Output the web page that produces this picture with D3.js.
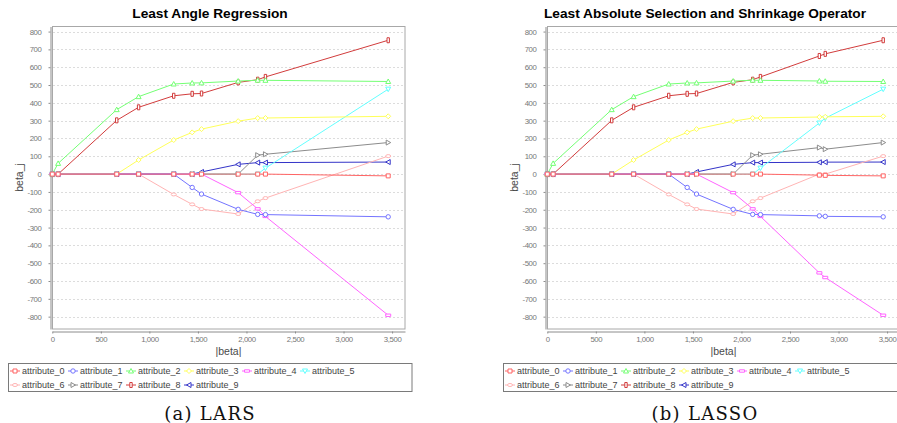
<!DOCTYPE html>
<html>
<head>
<meta charset="utf-8">
<script src="https://cdn.jsdelivr.net/npm/d3@7"></script>
<style>
body { margin: 0; background: #fff; }
text { font-family: "Liberation Sans", Arial, sans-serif; }
</style>
</head>
<body>
<svg id="viz" width="897" height="423"></svg>
<script>
var attributes = ["attribute_0", "attribute_1", "attribute_2", "attribute_3", "attribute_4",
                  "attribute_5", "attribute_6", "attribute_7", "attribute_8", "attribute_9"]

var xTicks = [0, 500, 1000, 1500, 2000, 2500, 3000, 3500]
var yTicks = [-800, -700, -600, -500, -400, -300, -200, -100, 0, 100, 200, 300, 400, 500, 600, 700, 800]

// |beta| at every breakpoint of the path
var larsNorm = [0, 60.12, 663.67, 888.92, 1250.69, 1440.80, 1537.07, 1914.58, 2115.75, 2195.56, 3460.02]
// one row per breakpoint, one column per attribute
var larsBeta = [
    [0, 0, 0, 0, 0, 0, 0, 0, 0, 0],
    [0, 0, 60.12, 0, 0, 0, 0, 0, 0, 0],
    [0, 0, 361.89, 0, 0, 0, 0, 0, 301.78, 0],
    [0, 0, 434.76, 79.24, 0, 0, 0, 0, 374.92, 0],
    [0, 0, 505.66, 191.27, 0, 0, -114.10, 0, 439.66, 0],
    [0, -74.92, 511.35, 234.15, 0, 0, -169.71, 0, 450.67, 0],
    [0, -111.98, 512.04, 252.53, 0, 0, -196.05, 0, 452.39, 12.08],
    [0, -197.76, 522.26, 297.16, -103.95, 0, -223.93, 0, 514.75, 54.77],
    [0, -226.13, 526.89, 314.39, -195.11, 0, -152.48, 106.34, 529.92, 64.49],
    [0, -227.18, 526.39, 314.95, -237.34, 33.63, -134.60, 111.38, 545.48, 64.61],
    [-10.01, -239.82, 519.84, 324.39, -792.18, 476.75, 101.04, 177.06, 751.28, 67.63]
]

var lassoNorm = [0, 60.12, 663.67, 888.92, 1250.69, 1440.80, 1537.07, 1914.58, 2115.75, 2195.56, 2802.38, 2863.02, 3460.02]
var lassoBeta = [
    [0, 0, 0, 0, 0, 0, 0, 0, 0, 0],
    [0, 0, 60.12, 0, 0, 0, 0, 0, 0, 0],
    [0, 0, 361.89, 0, 0, 0, 0, 0, 301.78, 0],
    [0, 0, 434.76, 79.24, 0, 0, 0, 0, 374.92, 0],
    [0, 0, 505.66, 191.27, 0, 0, -114.10, 0, 439.66, 0],
    [0, -74.92, 511.35, 234.15, 0, 0, -169.71, 0, 450.67, 0],
    [0, -111.98, 512.04, 252.53, 0, 0, -196.05, 0, 452.39, 12.08],
    [0, -197.76, 522.26, 297.16, -103.95, 0, -223.93, 0, 514.75, 54.77],
    [0, -226.13, 526.89, 314.39, -195.11, 0, -152.48, 106.34, 529.92, 64.49],
    [0, -227.18, 526.39, 314.95, -237.34, 33.63, -134.60, 111.38, 545.48, 64.61],
    [-5.72, -234.40, 522.65, 320.34, -554.27, 286.74, 0, 148.90, 663.03, 66.33],
    [-7.01, -237.10, 521.08, 321.55, -580.44, 313.86, 0, 139.86, 674.94, 67.18],
    [-10.01, -239.82, 519.84, 324.39, -792.18, 476.75, 101.04, 177.06, 751.28, 67.63]
]

var colors = ["#ff6464", "#7474ff", "#74ff74", "#ffff5a", "#ff64ff",
              "#64ffff", "#ffb4b4", "#8c8c8c", "#d23c3c", "#3434c8"]

// jfreechart style shape sequence
var shapes = [
    "M-2,-2h4v4h-4z",
    "M-2.2,0a2.2,2.2 0 1,0 4.4,0a2.2,2.2 0 1,0 -4.4,0",
    "M0,-2.5L2.5,2L-2.5,2z",
    "M0,-2.5L2.5,0L0,2.5L-2.5,0z",
    "M-2.5,-1.2h5v2.4h-5z",
    "M0,2.5L2.5,-2L-2.5,-2z",
    "M-2.5,0a2.5,1.5 0 1,0 5,0a2.5,1.5 0 1,0 -5,0",
    "M2.5,0L-2,-2.5L-2,2.5z",
    "M-1.2,-2.5h2.4v5h-2.4z",
    "M-2.5,0L2,-2.5L2,2.5z"
]

var fmt = d3.formatLocale({decimal: ".", thousands: ",", grouping: [3], currency: ["", ""], minus: "-"}).format(",")

function drawChart(ox, title, caption, norm, beta){
    var svg = d3.select("#viz").append("g")
        .attr("transform", "translate(" + ox + ",0)")

    var all = d3.merge(beta)
    var lo = d3.min(all), hi = d3.max(all), pad = (hi - lo) * 0.05

    var x = d3.scaleLinear().domain([0, d3.max(norm) * 1.05]).range([52.3, 405])
    var y = d3.scaleLinear().domain([lo - pad, hi + pad]).range([329, 26.5])

    svg.append("text")
        .attr("x", 210).attr("y", 18)
        .attr("text-anchor", "middle")
        .style("font-weight", "bold")
        .style("font-size", "13.7px")
        .text(title)

    // gridlines
    svg.append("g").selectAll("line")
        .data(yTicks)
        .enter()
        .append("line")
        .attr("x1", 53).attr("x2", 404.5)
        .attr("y1", function(d){ return Math.round(y(d)) + 0.5 })
        .attr("y2", function(d){ return Math.round(y(d)) + 0.5 })
        .style("stroke", "#dcdcdc")
        .style("stroke-dasharray", "2,2")

    // plot frame
    svg.append("rect")
        .attr("x", 52.5).attr("y", 26.5)
        .attr("width", 352.5).attr("height", 302.5)
        .style("fill", "none")
        .style("stroke", "#a8a8a8")

    var yAxis = d3.axisLeft(y).tickValues(yTicks).tickFormat(fmt).tickSize(2).tickSizeOuter(0).tickPadding(7)
    var xAxis = d3.axisBottom(x).tickValues(xTicks).tickFormat(fmt).tickSize(2).tickSizeOuter(0).tickPadding(3)

    var gy = svg.append("g").attr("transform", "translate(50.5,0)").call(yAxis)
    var gx = svg.append("g").attr("transform", "translate(0,331.5)").call(xAxis)

    ;[gx, gy].forEach(function(g){
        g.select(".domain").style("stroke", "#8c8c8c")
        g.selectAll(".tick line").style("stroke", "#8c8c8c")
        g.selectAll("text")
            .style("font-family", "Liberation Sans, Arial, sans-serif")
            .style("font-size", "7.8px")
            .style("letter-spacing", "-0.4px")
            .style("fill", "#777")
    })

    svg.append("text")
        .attr("transform", "translate(23,177.5) rotate(-90)")
        .attr("text-anchor", "middle")
        .style("font-size", "10.5px")
        .style("fill", "#4a4a4a")
        .text("beta_j")

    svg.append("text")
        .attr("x", 228.5).attr("y", 355)
        .attr("text-anchor", "middle")
        .style("font-size", "10.5px")
        .style("fill", "#4a4a4a")
        .text("|beta|")

    var line = d3.line()
        .x(function(d){ return x(d[0]) })
        .y(function(d){ return y(d[1]) })

    // series 0 ends up on top, like the original renderer
    for (var k = attributes.length - 1; k >= 0; k--){
        var pts = norm.map(function(n, i){ return [n, beta[i][k]] })
        var g = svg.append("g")
        g.append("path")
            .datum(pts)
            .attr("d", line)
            .style("fill", "none")
            .style("stroke", colors[k])
            .style("stroke-width", 1)
        g.selectAll(".pt")
            .data(pts)
            .enter()
            .append("path")
            .attr("class", "pt")
            .attr("d", shapes[k])
            .attr("transform", function(d){ return "translate(" + x(d[0]) + "," + y(d[1]) + ")" })
            .style("fill", "#fff")
            .style("stroke", colors[k])
            .style("stroke-width", 1)
    }

    // legend
    var lg = svg.append("g")
    lg.append("rect")
        .attr("x", 8.5).attr("y", 363.5)
        .attr("width", 403.5).attr("height", 28)
        .style("fill", "none")
        .style("stroke", "#7a7a7a")

    var item = lg.selectAll(".item")
        .data(attributes)
        .enter()
        .append("g")
        .attr("class", "item")
        .attr("transform", function(d, i){
            var row = i < 6 ? 0 : 1
            var col = i < 6 ? i : i - 6
            return "translate(" + (10 + col * 58) + "," + (371 + row * 14) + ")"
        })
    item.append("line")
        .attr("x1", 0).attr("x2", 10)
        .style("stroke", function(d, i){ return colors[i] })
    item.append("path")
        .attr("d", function(d, i){ return shapes[i] })
        .attr("transform", "translate(5,0)")
        .style("fill", "#fff")
        .style("stroke", function(d, i){ return colors[i] })
    item.append("text")
        .attr("x", 12).attr("y", 3)
        .style("font-size", "9px")
        .style("fill", "#444")
        .text(function(d){ return d })

    svg.append("text")
        .attr("x", 210).attr("y", 420)
        .attr("text-anchor", "middle")
        .style("font-family", "DejaVu Serif, serif")
        .style("font-size", "18px")
        .style("letter-spacing", "1.3px")
        .style("fill", "#111")
        .text(caption)
}

drawChart(0, "Least Angle Regression", "(a) LARS", larsNorm, larsBeta)
drawChart(495, "Least Absolute Selection and Shrinkage Operator", "(b) LASSO", lassoNorm, lassoBeta)
</script>
</body>
</html>
